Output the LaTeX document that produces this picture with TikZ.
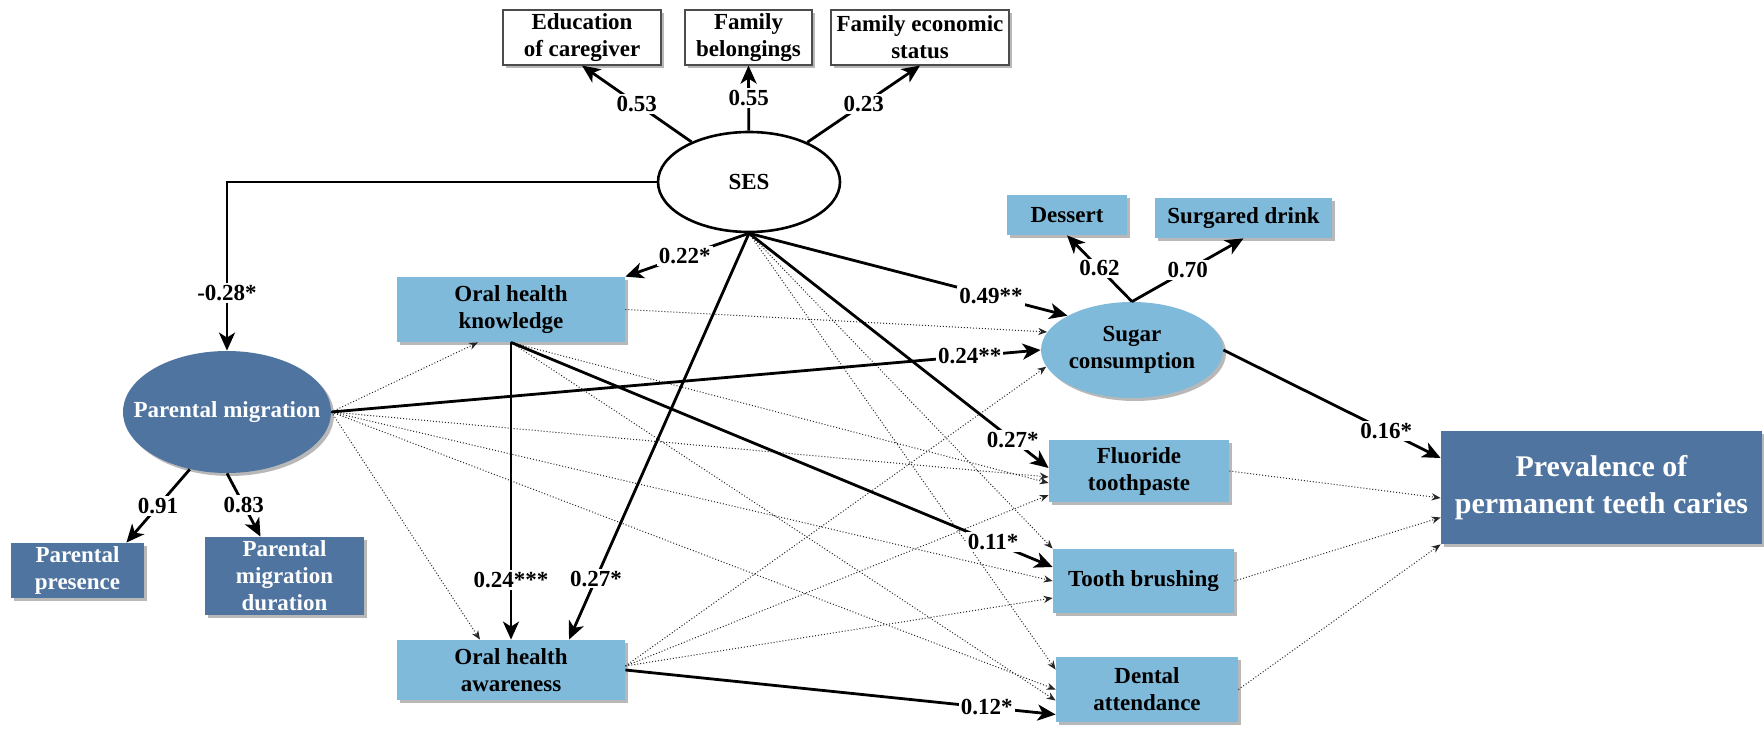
\documentclass[tikz,border=0pt]{standalone}
\usepackage{fontspec}
\setmainfont{Liberation Serif}
\usetikzlibrary{arrows.meta,shapes.geometric,shadows}
\definecolor{lightbox}{HTML}{80BADB}
\definecolor{darkbox}{HTML}{4F74A0}
\definecolor{shade}{HTML}{B8B8B8}

\tikzset{
  base/.style={font=\bfseries\fontsize{11.5}{13.5}\selectfont, align=center, inner sep=0pt},
  shadowed/.style={drop shadow={shadow xshift=1.5pt, shadow yshift=-1.5pt, fill=shade, opacity=1}},
  whitebox/.style={base, rectangle, draw=black!70, line width=0.6pt, fill=white, shadowed},
  lightrect/.style={base, rectangle, fill=lightbox, shadowed},
  darkrect/.style={base, rectangle, fill=darkbox, text=white, shadowed},
  lightoval/.style={base, ellipse, fill=lightbox, shadowed},
  darkoval/.style={base, ellipse, fill=darkbox, text=white, shadowed},
  sarrow/.style={line width=1.4pt, -{Stealth[length=9pt, width=8pt, inset=2.5pt]}},
  darrow/.style={line width=0.5pt, densely dotted, black!85, -{Stealth[length=4.5pt, width=3.6pt]}},
  lbl/.style={font=\bfseries\fontsize{11.5}{13}\selectfont, fill=white, inner sep=1pt},
}

\begin{document}
\begin{tikzpicture}[x=0.5pt, y=-0.5pt]
\useasboundingbox (0,0) rectangle (1764,731);

% indicators of SES
\node[whitebox, minimum width=79pt, minimum height=27.5pt] (edu) at (582,37.5) {Education\\of caregiver};
\node[whitebox, minimum width=63.5pt, minimum height=27.5pt] (fb) at (748.5,37.5) {Family\\belongings};
\node[whitebox, minimum width=89pt, minimum height=27.5pt] (fe) at (920,37.5) {Family economic\\status};
\node[base, ellipse, draw, line width=1.3pt, fill=white, minimum width=91pt, minimum height=50pt] (ses) at (749,182) {SES};

% sugar consumption and its indicators
\node[lightrect, minimum width=60pt, minimum height=20pt] (dessert) at (1067,215) {Dessert};
\node[lightrect, minimum width=88.5pt, minimum height=20pt] (drink) at (1243.5,218) {Surgared drink};
\node[lightoval, minimum width=91pt, minimum height=48pt] (sugar) at (1132,350) {Sugar\\consumption};

% oral health knowledge and awareness
\node[lightrect, minimum width=114pt, minimum height=32.5pt] (ohk) at (511,309.5) {Oral health\\knowledge};
\node[lightrect, minimum width=114pt, minimum height=30pt] (oha) at (511,670) {Oral health\\awareness};

% parental migration and its indicators (the label may fill the whole oval)
\node[darkoval, minimum width=104pt, minimum height=61pt] (pm) at (227,412) {\makebox[0pt]{Parental migration}};
\node[darkrect, minimum width=66.5pt, minimum height=27.5pt] (pres) at (77.5,570.5) {Parental\\presence};
\node[darkrect, minimum width=79.5pt, minimum height=39pt] (dur) at (284.5,576) {Parental\\migration\\duration};

% oral health behaviours
\node[lightrect, minimum width=90pt, minimum height=31pt] (fl) at (1139,471) {Fluoride\\toothpaste};
\node[lightrect, minimum width=90.5pt, minimum height=32pt] (tb) at (1143.5,581) {Tooth brushing};
\node[lightrect, minimum width=91pt, minimum height=32.5pt] (den) at (1147,689.5) {Dental\\attendance};

% outcome
\node[darkrect, minimum width=160.5pt, minimum height=56.5pt, font=\bfseries\fontsize{15}{18.5}\selectfont] (prev) at (1601.5,487.5) {Prevalence of\\permanent teeth caries};

% non-significant paths
\draw[darrow] (ses.south) -- (tb.north west);
\draw[darrow] (ses.south) -- ([yshift=-6.5pt]den.north west);
\draw[darrow] (pm.east) -- ([xshift=-16.5pt]ohk.south);
\draw[darrow] (pm.east) -- ([xshift=-15.5pt]oha.north);
\draw[darrow] (pm.east) -- ([yshift=-3pt]fl.west);
\draw[darrow] (pm.east) -- (tb.west);
\draw[darrow] (pm.east) -- (den.west);
\draw[darrow] (ohk.east) -- (sugar.168);
\draw[darrow] (ohk.south) -- ([yshift=-6pt]fl.west);
\draw[darrow] (ohk.south) -- ([yshift=-5.5pt]den.west);
\draw[darrow] ([yshift=2pt]oha.east) -- (sugar.191);
\draw[darrow] ([yshift=2pt]oha.east) -- ([yshift=-12pt]fl.west);
\draw[darrow] ([yshift=2pt]oha.east) -- ([yshift=-8.5pt]tb.west);
\draw[darrow] (fl.east) -- ([yshift=-5.25pt]prev.west);
\draw[darrow] (tb.east) -- ([yshift=-15pt]prev.west);
\draw[darrow] (den.east) -- (prev.south west);

% factor loadings
\draw[sarrow] (ses) -- (edu.south) node[lbl, pos=0.5] {0.53};
\draw[sarrow] (ses) -- (fb.south) node[lbl, pos=0.5] {0.55};
\draw[sarrow] (ses) -- (fe.south) node[lbl, pos=0.5] {0.23};
\draw[sarrow] (sugar.north) -- (dessert.south) node[lbl, pos=0.5] {0.62};
\draw[sarrow] (sugar.north) -- (drink.south) node[lbl, pos=0.5] {0.70};
\draw[sarrow] (pm.237) -- ([xshift=-9pt]pres.north east) node[lbl, pos=0.5] {0.91};
\draw[sarrow] (pm.south) -- ([xshift=-12pt]dur.north) node[lbl, pos=0.5] {0.83};

% significant paths
\draw[sarrow] (ses.west) -| (pm.north) node[lbl, pos=0.83] {-0.28*};
\draw[sarrow] (ses.south) -- (ohk.north east) node[lbl, pos=0.52] {0.22*};
\draw[sarrow] (ses.south) -- ([xshift=29pt]oha.north) node[lbl, pos=0.85] {0.27*};
\draw[sarrow] (ses.south) -- (sugar.152) node[lbl, pos=0.76] {0.49**};
\draw[sarrow] (ses.south) -- ([yshift=1.5pt]fl.west) node[lbl, pos=0.88] {0.27*};
\draw[sarrow] (pm.east) -- (sugar.west) node[lbl, pos=0.9] {0.24**};
\draw[sarrow] (ohk.south) -- (oha.north) node[lbl, pos=0.8] {0.24***};
\draw[sarrow] (ohk.south) -- ([yshift=7pt]tb.west) node[lbl, pos=0.89] {0.11*};
\draw[sarrow] (oha.east) -- ([yshift=-12.5pt]den.west) node[lbl, pos=0.84] {0.12*};
\draw[sarrow] (sugar.east) -- ([yshift=14.75pt]prev.west) node[lbl, pos=0.75] {0.16*};
\end{tikzpicture}
\end{document}
